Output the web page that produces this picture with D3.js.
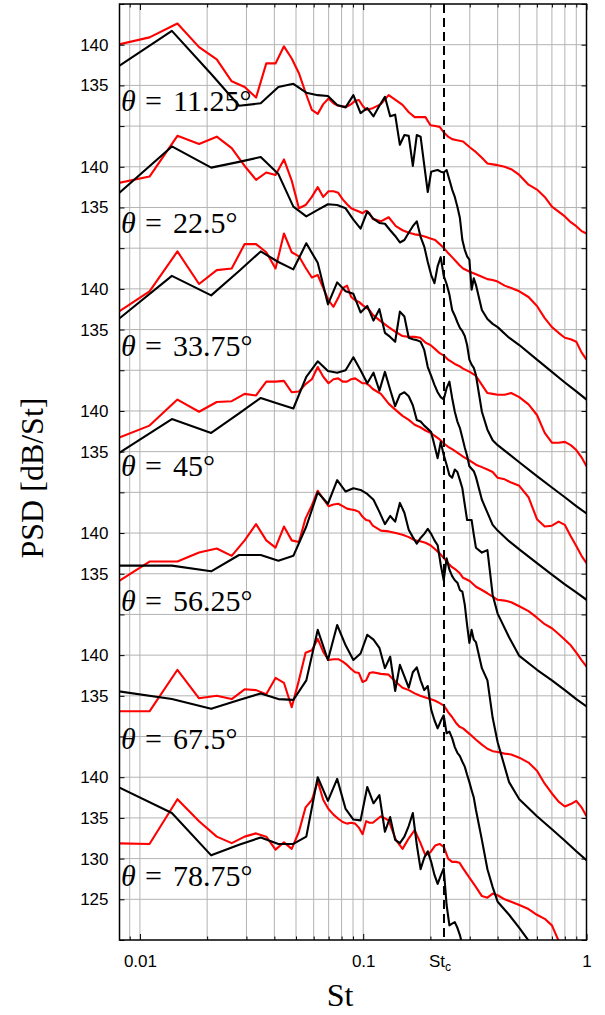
<!DOCTYPE html>
<html>
<head>
<meta charset="utf-8">
<script src="https://cdn.jsdelivr.net/npm/d3@7"></script>
<style>
  body { margin: 0; background: #fff; }
</style>
</head>
<body>
<svg id="chart" width="605" height="1015"></svg>
<script>
// Polar angles of the stacked spectra, top to bottom
const angles = ["11.25", "22.5", "33.75", "45", "56.25", "67.5", "78.75"];

// Strouhal numbers of the red spectra
const stRed = [0.00736,0.01104,0.01472,0.0184,0.02208,0.02576,0.02944,0.03312,0.0368,0.04048,
  0.04416,0.04784,0.05152,0.0552,0.05888,0.06256,0.06624,0.06992,0.0736,0.07728,
  0.08096,0.08464,0.08832,0.092,0.09568,0.09936,0.10304,0.10672,0.1104,
  0.12,0.13,0.14,0.15,0.16,0.17,0.18,0.19,0.2,0.21,0.22,0.23,0.24,0.25,0.26,0.27,0.28,
  0.3,0.32,0.34,0.36,0.38,0.4,0.43,0.46,0.5,0.55,0.6,0.65,0.7,0.75,0.8,0.85,0.9,0.95,1.0];

// Strouhal numbers of the black spectra
const stBlack = [0.00695,0.0139,0.02085,0.0278,0.03475,0.0417,0.04865,0.0556,0.06255,0.0695,
  0.07645,0.0834,0.09035,0.0973,0.10425,0.1112,0.11815,0.1251,0.13205,0.139,
  0.14595,0.1529,0.15985,0.1668,0.17375,0.1807,0.18765,0.1946,0.20155,0.2085,
  0.21545,0.2224,0.22935,0.2363,0.24325,0.2502,0.25715,0.2641,0.27105,0.278,
  0.28495,0.2919,0.29885,0.3058,0.31275,0.3197,
  0.34,0.36,0.38,0.4,0.45,0.5,0.6,0.7,0.8,0.9,1.0];

// Red spectra, PSD in dB/St
const red11 = [139.8,140.9,142.6,139.7,138.2,135.5,134.8,133.5,137.7,137.7,139.8,138.3,136.5,134.1,132.0,131.5,132.7,133.4,132.8,132.5,132.4,132.4,132.7,133.1,133.2,132.5,132.0,132.1,132.2,
  132.7,133.8,133.2,132.6,131.7,131.1,131.1,131.1,130.1,130.0,129.9,129.2,128.7,128.4,128.3,128.2,128.1,127.4,126.8,126.1,125.4,125.3,125.2,125.0,124.7,124.0,122.8,122.2,121.3,120.1,119.5,118.9,118.2,117.7,117.1,116.8];
const red22 = [137.8,138.8,143.8,142.8,143.7,142.3,140.1,138.4,139.3,139.0,140.9,138.3,134.9,135.3,136.3,137.5,136.3,137.0,137.0,136.8,136.0,135.4,134.9,134.7,134.5,134.3,134.6,134.3,133.6,
  133.3,133.8,132.7,132.2,131.9,131.7,131.6,131.4,131.2,131.0,130.5,130.0,129.4,128.9,128.4,127.9,127.5,127.1,126.8,126.5,126.2,126.1,125.9,125.4,125.1,124.7,124.0,122.9,121.4,120.3,119.6,119.0,118.8,118.5,117.2,116.3];
const red33 = [136.5,139.7,144.6,140.6,142.3,142.5,145.5,145.5,144.5,142.5,146.8,144.5,144.0,142.6,141.4,141.7,140.1,138.6,137.8,138.9,140.1,140.4,139.0,138.6,138.4,138.0,137.7,137.4,136.8,
  136.0,135.3,134.7,134.2,134.1,134.1,134.0,133.4,133.1,132.6,132.1,131.8,131.3,131.0,130.7,130.5,130.2,129.8,129.3,128.2,127.2,127.1,127.0,127.0,127.2,126.7,125.8,124.5,122.3,121.1,121.1,121.2,120.8,120.2,119.3,118.2];
const red45 = [136.3,138.2,141.4,139.9,141.1,141.2,142.1,141.9,143.6,143.6,143.7,142.3,142.4,143.3,143.9,145.4,144.2,143.4,143.9,144.0,143.6,143.6,143.9,144.0,143.7,143.4,143.4,143.1,142.7,
  142.1,140.9,140.1,139.4,138.9,138.3,138.0,137.6,137.3,136.9,136.5,136.0,135.6,135.3,135.0,134.7,134.4,133.9,133.4,133.1,132.8,132.5,131.8,131.6,131.2,130.8,129.4,126.7,125.8,125.9,126.4,126.0,124.6,123.4,122.2,121.3];
const red56 = [133.4,136.5,136.5,137.6,138.1,137.2,139.1,141.1,139.1,138.2,140.8,139.1,138.9,141.8,143.4,145.2,144.2,143.3,143.5,143.6,143.3,143.0,142.9,142.8,142.6,142.0,141.6,141.5,140.9,
  140.3,140.2,140.0,139.8,139.5,139.1,139.0,138.8,138.5,138.0,137.5,136.9,136.3,135.8,135.5,135.1,134.5,134.1,133.4,133.0,132.6,132.2,131.8,131.7,131.5,131.0,130.4,129.6,128.8,128.3,127.6,126.9,126.2,125.3,124.4,123.6];
const red67 = [133.1,133.1,138.2,134.7,135.0,134.6,135.8,135.7,135.2,137.2,136.6,133.6,136.9,140.3,140.6,142.0,140.4,139.4,139.5,139.5,139.2,138.8,138.3,137.9,137.8,136.7,136.9,137.8,137.9,
  137.7,137.6,136.7,136.0,135.7,135.3,135.0,134.8,134.6,134.4,134.1,133.8,133.0,132.4,131.7,131.2,131.0,130.3,129.6,129.0,128.5,128.2,128.1,127.9,127.8,127.4,126.8,125.8,124.2,123.0,122.0,121.4,121.7,122.1,121.3,120.2];
const red78 = [131.9,131.8,137.3,134.6,132.7,131.9,132.7,133.1,132.7,131.1,132.0,131.2,133.3,136.3,137.2,139.5,137.2,136.1,135.4,134.9,134.5,134.3,134.4,134.3,133.8,133.0,134.6,134.4,134.4,
  135.2,134.7,132.3,131.2,132.5,133.5,132.0,130.4,130.8,131.6,131.8,131.4,130.0,129.6,129.6,129.5,128.8,127.6,126.5,125.4,125.2,125.7,125.5,125.0,124.7,124.3,123.8,123.1,122.6,121.8,119.9,118.2,116.9,115.7,114.5,113.3];

// Black spectra, PSD in dB/St
const black11 = [136.2,141.7,136.4,132.5,132.8,134.8,135.2,134.1,133.8,133.7,132.6,132.3,133.8,131.6,132.2,131.2,132.5,133.6,131.2,131.4,
  127.7,128.9,128.8,125.1,128.9,128.7,125.2,121.9,124.4,124.5,124.6,124.4,124.3,124.6,123.4,122.2,121.3,120.1,118.7,116.0,
  114.8,114.0,113.6,109.9,111.3,110.5,107.4,106.3,105.7,105.3,104.0,103.1,101.3,99.8,98.5,97.4,96.4];
const black22 = [135.2,142.5,139.9,140.6,141.2,139.1,135.1,133.9,134.7,135.4,135.3,134.9,133.5,132.4,134.5,133.6,133.1,133.0,132.2,131.5,
  130.7,131.0,131.9,132.7,133.3,131.4,130.2,128.3,126.7,125.7,127.8,128.9,126.6,125.6,124.3,122.4,121.7,120.9,120.2,119.8,
  119.2,118.1,116.3,115.7,115.3,114.4,109.9,107.7,106.4,105.8,104.7,103.7,102.0,100.6,99.4,98.3,97.4];
const black33 = [134.9,141.6,139.2,142.2,144.6,143.3,142.4,145.6,143.2,138.1,140.8,139.7,139.4,137.1,137.9,136.1,137.5,134.6,134.1,133.5,
  137.2,136.6,134.0,133.8,133.7,133.5,132.5,130.4,129.3,128.2,127.3,126.7,126.4,127.8,128.6,126.6,124.9,123.7,122.9,121.7,
  120.5,119.5,118.2,117.9,117.6,116.9,114.1,112.5,111.0,110.3,109.0,108.0,106.3,104.9,103.7,102.7,101.8];
const black45 = [133.7,139.0,137.3,139.7,141.6,140.9,140.3,144.2,146.1,144.9,144.7,145.0,146.6,145.0,143.4,144.7,142.5,144.8,142.6,140.6,
  142.0,142.3,141.8,140.7,138.9,138.7,138.2,137.8,137.4,135.8,134.2,136.2,134.6,133.4,132.1,131.8,132.8,132.5,131.5,130.5,
  128.5,126.6,126.6,126.6,124.8,123.2,122.6,122.9,117.4,115.1,112.2,109.9,108.2,106.9,105.7,104.6,103.7];
const black56 = [136.0,136.0,135.3,137.3,137.3,136.6,137.2,140.8,145.0,143.6,146.5,145.1,145.5,145.3,144.8,144.1,142.6,141.1,142.1,141.4,
  143.7,142.5,140.4,139.5,138.7,139.4,139.9,140.5,139.9,139.1,138.5,136.1,134.2,136.9,135.5,134.7,134.2,133.9,133.0,132.8,
  131.2,128.7,126.5,128.1,126.9,126.6,123.4,121.9,117.3,114.3,109.4,107.3,105.2,103.6,102.2,100.9,99.8];
const black67 = [135.8,134.6,133.4,134.5,135.3,134.6,134.5,136.9,143.1,139.4,143.7,141.2,139.4,140.2,142.5,141.9,140.9,138.4,139.8,135.6,
  138.8,137.4,136.0,137.9,138.5,136.9,135.7,136.2,133.3,132.0,131.0,131.9,132.6,130.4,130.6,129.8,128.7,128.0,127.6,126.9,
  126.3,125.3,124.4,123.4,122.5,121.0,117.3,113.7,111.5,109.7,108.1,106.5,103.5,101.1,99.0,97.1,95.4];
const black78 = [139.6,135.6,130.4,131.7,132.6,131.8,131.8,132.7,140.0,137.1,139.8,136.1,134.8,134.7,138.8,136.8,137.8,133.3,135.1,132.3,
  131.9,132.7,134.0,135.6,131.7,128.7,130.1,130.9,129.6,128.0,126.9,127.9,128.8,124.3,121.8,122.0,122.2,121.5,120.6,119.4,
  118.8,117.8,116.9,116.3,115.7,115.1,113.9,112.6,111.4,110.2,108.3,106.5,103.4,101.0,99.1,97.3,95.4];

const redSeries = [red11, red22, red33, red45, red56, red67, red78];
const blackSeries = [black11, black22, black33, black45, black56, black67, black78];

// Labelled PSD ticks of each spectrum (the lowest one carries two more)
const panelTickLabels = [140, 135];
const lowestTickLabels = [140, 135, 130, 125];
// Critical Strouhal number
const stC = 0.23;
// Spacing between stacked spectra, dB
const panelStep = 15;

// ---- layout ----
const M = { left: 119.5, right: 586.5, top: 4, bottom: 940 };
const labelDb = [131.85, 131.85, 131.75, 132.0, 130.4, 128.45, 126.6];

const svg = d3.select("#chart");
const x = d3.scaleLog().domain([0.0081, 1]).range([M.left, M.right]);
const y = d3.scaleLinear().domain([120, 235]).range([M.bottom, M.top]);
const nP = angles.length;
const offsetOf = k => (nP - 1 - k) * panelStep;

// y tick values and their labels
const yTicks = d3.range(120, 236, 5);
const yLabelMap = new Map();
angles.forEach((a, k) => {
  const labs = k === nP - 1 ? lowestTickLabels : panelTickLabels;
  labs.forEach(v => yLabelMap.set(v + offsetOf(k), String(v)));
});

// grid
const grid = svg.append("g").attr("stroke", "#b3b3b3").attr("stroke-width", 1);
const xGrid = x.ticks().filter(v => v > 0.0081 && v < 1);
grid.selectAll("line.v").data(xGrid).join("line")
  .attr("x1", d => x(d)).attr("x2", d => x(d))
  .attr("y1", M.top).attr("y2", M.bottom);
grid.selectAll("line.h").data(yTicks.filter(v => v > 120 && v < 235)).join("line")
  .attr("x1", M.left).attr("x2", M.right)
  .attr("y1", d => y(d)).attr("y2", d => y(d));

// clip to plot area
svg.append("clipPath").attr("id", "plotClip").append("rect")
  .attr("x", M.left).attr("y", M.top)
  .attr("width", M.right - M.left).attr("height", M.bottom - M.top);

const plot = svg.append("g").attr("clip-path", "url(#plotClip)");

function curve(stArr, vals, off) {
  const pts = stArr.map((s, i) => [s, vals[i]]).filter(p => p[1] !== undefined);
  return d3.line().x(p => x(p[0])).y(p => y(p[1] + off))(pts);
}

redSeries.forEach((vals, k) => {
  plot.append("path").attr("d", curve(stRed, vals, offsetOf(k)))
    .attr("fill", "none").attr("stroke", "#ff0000").attr("stroke-width", 2.1)
    .attr("stroke-linejoin", "round");
});
blackSeries.forEach((vals, k) => {
  plot.append("path").attr("d", curve(stBlack, vals, offsetOf(k)))
    .attr("fill", "none").attr("stroke", "#000").attr("stroke-width", 2.1)
    .attr("stroke-linejoin", "round");
});

// critical Strouhal number
plot.append("line")
  .attr("x1", x(stC)).attr("x2", x(stC))
  .attr("y1", M.top).attr("y2", M.bottom)
  .attr("stroke", "#000").attr("stroke-width", 2)
  .attr("stroke-dasharray", "9,5");

// angle labels
angles.forEach((a, k) => {
  const t = svg.append("text")
    .attr("x", 121).attr("y", y(labelDb[k] + offsetOf(k)))
    .attr("font-family", "Liberation Serif, Times New Roman, serif")
    .attr("font-size", 30).attr("fill", "#000");
  t.append("tspan").attr("font-style", "italic").text("θ");
  t.append("tspan").attr("x", 145).text("=");
  t.append("tspan").attr("x", 173).text(a + "°");
});

// axes
const tickFont = "Liberation Sans, Arial, Helvetica, sans-serif";
const yAxisL = d3.axisLeft(y).tickValues(yTicks).tickSizeInner(-5).tickSizeOuter(0)
  .tickPadding(11).tickFormat(v => yLabelMap.get(v) || "");
const gL = svg.append("g").attr("transform", `translate(${M.left},0)`).call(yAxisL);
const yAxisR = d3.axisRight(y).tickValues(yTicks).tickSizeInner(-5).tickSizeOuter(0).tickFormat("");
const gR = svg.append("g").attr("transform", `translate(${M.right},0)`).call(yAxisR);

const xMajor = [0.01, 0.1, 1];
const xMinor = xGrid.filter(v => !xMajor.includes(v));
const xAxisB = d3.axisBottom(x).tickValues(xMajor).tickSizeInner(-6).tickSizeOuter(0)
  .tickPadding(15).tickFormat(d3.format("~g"));
const gB = svg.append("g").attr("transform", `translate(0,${M.bottom})`).call(xAxisB);
const xAxisBm = d3.axisBottom(x).tickValues(xMinor).tickSizeInner(-3.5).tickSizeOuter(0).tickFormat("");
const gBm = svg.append("g").attr("transform", `translate(0,${M.bottom})`).call(xAxisBm);
const xAxisT = d3.axisTop(x).tickValues(xMajor).tickSizeInner(-6).tickSizeOuter(0).tickFormat("");
const gT = svg.append("g").attr("transform", `translate(0,${M.top})`).call(xAxisT);
const xAxisTm = d3.axisTop(x).tickValues(xMinor).tickSizeInner(-3.5).tickSizeOuter(0).tickFormat("");
const gTm = svg.append("g").attr("transform", `translate(0,${M.top})`).call(xAxisTm);

[gL, gR, gB, gBm, gT, gTm].forEach(g => {
  g.select(".domain").remove();
  g.attr("font-family", tickFont).attr("font-size", 17);
  g.selectAll(".tick line").attr("stroke", "#000").attr("stroke-width", 1);
  g.selectAll("text").attr("fill", "#000");
});

// St_c tick label
const stcLab = svg.append("text")
  .attr("x", x(stC) - 4).attr("y", 967)
  .attr("text-anchor", "middle")
  .attr("font-family", tickFont).attr("font-size", 17).attr("fill", "#000");
stcLab.append("tspan").text("St");
stcLab.append("tspan").attr("font-size", 12).attr("dy", 4).text("c");

// frame
svg.append("rect")
  .attr("x", M.left).attr("y", M.top)
  .attr("width", M.right - M.left).attr("height", M.bottom - M.top)
  .attr("fill", "none").attr("stroke", "#000").attr("stroke-width", 1.5);

// axis titles
svg.append("text")
  .attr("x", 340).attr("y", 1006)
  .attr("text-anchor", "middle")
  .attr("font-family", "Liberation Serif, Times New Roman, serif")
  .attr("font-size", 32).attr("fill", "#000")
  .text("St");
svg.append("text")
  .attr("transform", "translate(43,478) rotate(-90)")
  .attr("text-anchor", "middle")
  .attr("font-family", "Liberation Serif, Times New Roman, serif")
  .attr("font-size", 32).attr("fill", "#000")
  .text("PSD [dB/St]");
</script>
</body>
</html>
